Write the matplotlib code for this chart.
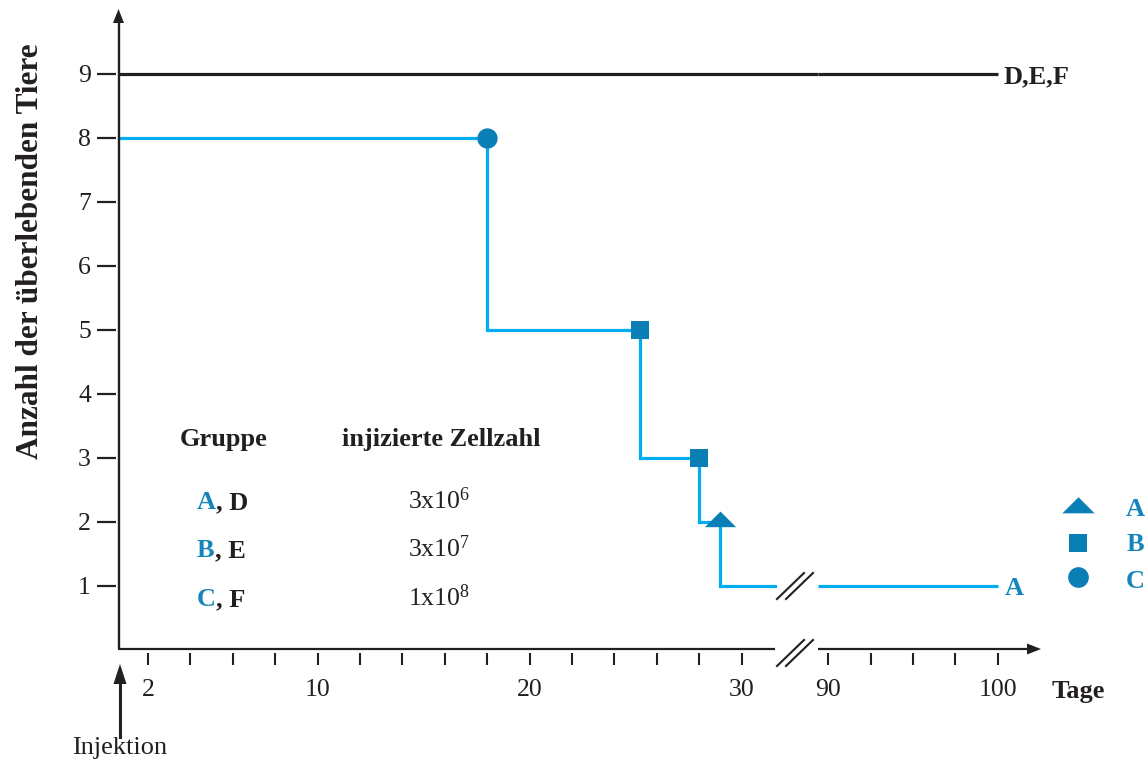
import matplotlib
matplotlib.use("Agg")
import matplotlib.pyplot as plt
from matplotlib.transforms import Affine2D
from matplotlib.lines import Line2D
from matplotlib.path import Path
from matplotlib.markers import MarkerStyle

plt.rcParams['font.family'] = ['Liberation Serif', 'DejaVu Serif']
plt.rcParams['mathtext.fontset'] = 'custom'
plt.rcParams['mathtext.rm'] = 'Liberation Serif'
plt.rcParams['mathtext.it'] = 'Liberation Serif:italic'
plt.rcParams['mathtext.bf'] = 'Liberation Serif:bold'

# ---------------- data ----------------
start_survivors = 8
event_days = [18, 25.2, 28, 29]        # days on which animals died (groups A-C)
survivors_after = [5, 3, 2, 1]         # survivors after each event
event_groups = ['C', 'B', 'B', 'A']    # group that lost animals at that event
end_day = 100
control_survivors = 9                  # groups D, E, F
control_label = 'D,E,F'
line_label = 'A'

left_ticks = [2, 4, 6, 8, 10, 12, 14, 16, 18, 20, 22, 24, 26, 28, 30]
left_labelled = [2, 10, 20, 30]
right_ticks = [90, 92.5, 95, 97.5, 100]
right_labelled = [90, 100]
y_ticks = [1, 2, 3, 4, 5, 6, 7, 8, 9]

treated_groups = ['A', 'B', 'C']
control_groups = ['D', 'E', 'F']
cell_mantissa = ['3', '3', '1']
cell_exponent = ['6', '7', '8']

# ---------------- styles ----------------
LINE_BLUE = '#00aeef'
MARK_BLUE = '#0a7fb5'
TEXT_BLUE = '#1486ba'
BLACK = '#231f20'
W, H = 1147, 762

marker_for = {
    'A': MarkerStyle(Path([(-1, -0.3), (1, -0.3), (0, 0.7), (-1, -0.3)],
                          [Path.MOVETO, Path.LINETO, Path.LINETO, Path.CLOSEPOLY])),
    'B': 's',
    'C': 'o',
}
size_for = {'A': 22.5, 'B': 12.3, 'C': 14.6}

fig = plt.figure(figsize=(W / 100, H / 100), dpi=100)
px = Affine2D().scale(1 / W, -1 / H).translate(0, 1) + fig.transFigure

ax_bottom_px, ax_top_px = 653, 10
bottom = (H - ax_bottom_px) / H
height = (ax_bottom_px - ax_top_px) / H
axL = fig.add_axes([116 / W, bottom, (775 - 116) / W, height])
axR = fig.add_axes([818 / W, bottom, (1041 - 818) / W, height])

ppd_L = 21.2   # pixels per day, left segment
ppd_R = 17.0   # pixels per day, right segment
axL.set_xlim(2 - (148 - 116) / ppd_L, 2 + (775 - 148) / ppd_L)
axR.set_xlim(90 - (828 - 818) / ppd_R, 90 + (1041 - 828) / ppd_R)
ylo = -(ax_bottom_px - 650) / 64.0
yhi = (650 - ax_top_px) / 64.0
for a in (axL, axR):
    a.set_ylim(ylo, yhi)
    for s in a.spines.values():
        s.set_visible(False)
    a.patch.set_visible(False)

injection_day = 2 - (148 - 119) / ppd_L
xL0, xL1 = injection_day, axL.get_xlim()[1]
xR0 = axR.get_xlim()[0]

# ----- ticks -----
axL.set_xticks(left_ticks)
axL.set_xticklabels([str(t) if t in left_labelled else '' for t in left_ticks])
axR.set_xticks(right_ticks)
axR.set_xticklabels([('%g' % t) if t in right_labelled else '' for t in right_ticks])
for a in (axL, axR):
    a.tick_params(axis='x', direction='out', length=8.5, width=1.5, color=BLACK,
                  labelsize=18.5, labelcolor=BLACK, pad=10)
axL.set_yticks(y_ticks)
axL.set_yticklabels([str(t) for t in y_ticks])
axL.tick_params(axis='y', direction='out', length=14, width=1.6, color=BLACK,
                labelsize=18.5, labelcolor=BLACK, pad=4)
axR.set_yticks([])

# ----- axis lines with arrows -----
def arrow_head(tip, direction, length=14, half_width=5.5):
    tx, ty = tip
    if direction == 'up':
        pts = [[tx, ty], [tx - half_width, ty + length], [tx + half_width, ty + length]]
    else:  # right
        pts = [[tx, ty], [tx - length, ty - half_width], [tx - length, ty + half_width]]
    fig.patches.append(plt.Polygon(pts, closed=True, transform=px, color=BLACK,
                                   figure=fig, lw=0))

fig.add_artist(Line2D([118.5, 118.5], [649, 20], transform=px, color=BLACK, lw=1.7,
                      solid_capstyle='butt'))
arrow_head((118.5, 9), 'up')
fig.add_artist(Line2D([118, 775], [649, 649], transform=px, color=BLACK, lw=1.6,
                      solid_capstyle='butt'))
fig.add_artist(Line2D([818, 1030], [649, 649], transform=px, color=BLACK, lw=1.6,
                      solid_capstyle='butt'))
arrow_head((1041, 649), 'right')

# ----- control line D,E,F (continuous across the break) -----
axL.plot([xL0, xL1 + (818 - 775) / ppd_L], [control_survivors] * 2, color=BLACK,
         lw=2.3, clip_on=False, solid_capstyle='butt')
axR.plot([xR0, end_day], [control_survivors] * 2, color=BLACK, lw=2.3,
         solid_capstyle='butt')
axR.text(end_day + 0.3, control_survivors, control_label, fontsize=19,
         fontweight='bold', color=BLACK, ha='left', va='center_baseline')

# ----- survival step line -----
xs = [xL0] + event_days + [xL1]
ys = [start_survivors] + survivors_after + [survivors_after[-1]]
axL.step(xs, ys, where='post', color=LINE_BLUE, lw=2.3, clip_on=False,
         solid_joinstyle='miter')
axR.plot([xR0, end_day], [survivors_after[-1]] * 2, color=LINE_BLUE, lw=2.3,
         solid_capstyle='butt')
axR.text(end_day + 0.4, survivors_after[-1], line_label, fontsize=19,
         fontweight='bold', color=TEXT_BLUE, ha='left', va='center_baseline')

before = [start_survivors] + survivors_after[:-1]
for d, yb, g in zip(event_days, before, event_groups):
    axL.plot([d], [yb], linestyle='none', marker=marker_for[g],
             markersize=size_for[g], color=MARK_BLUE, markeredgewidth=0,
             clip_on=False, zorder=5)

# ----- break marks -----
def break_mark(yc):
    for dx in (0, 9):
        fig.add_artist(Line2D([777 + dx, 804 + dx], [yc + 13, yc - 13],
                              transform=px, color=BLACK, lw=1.5))

break_mark(586)
break_mark(653)

# ----- labels -----
fig.text(31 / W, 1 - 251 / H, 'Anzahl der überlebenden Tiere', rotation=90,
         fontsize=22.5, fontweight='bold', color=BLACK, ha='center', va='center')
fig.text(1052, 698, 'Tage', transform=px, fontsize=19, fontweight='bold',
         color=BLACK, ha='left', va='baseline')
fig.text(120, 754, 'Injektion', transform=px, fontsize=19, color=BLACK,
         ha='center', va='baseline')
fig.add_artist(Line2D([120, 120], [737, 682], transform=px, color=BLACK, lw=2.2))
fig.patches.append(plt.Polygon([[113.5, 684], [126.5, 684], [120, 664]], closed=True,
                               transform=px, color=BLACK, figure=fig, lw=0))

# ----- table -----
fig.text(180, 446, 'Gruppe', transform=px, fontsize=19, fontweight='bold',
         color=BLACK, ha='left', va='baseline')
fig.text(342, 446, 'injizierte Zellzahl', transform=px, fontsize=19,
         fontweight='bold', color=BLACK, ha='left', va='baseline')
row_base = [509, 557, 606]
for tg, cg, m, e, yb in zip(treated_groups, control_groups, cell_mantissa,
                            cell_exponent, row_base):
    t = fig.text(197, yb, tg, transform=px, fontsize=19, fontweight='bold',
                 color=TEXT_BLUE, ha='left', va='baseline')
    fig.canvas.draw()
    bb = t.get_window_extent()
    fig.text(bb.x1 / W, (H - yb) / H, ', ' + cg, fontsize=19,
             fontweight='bold', color=BLACK, ha='left', va='baseline')
    fig.text(408, yb, m + r'x10$^{\mathrm{' + e + '}}$', transform=px,
             fontsize=18.5, color=BLACK, ha='left', va='baseline')

# ----- marker legend -----
leg_y = [508, 543, 577]
leg_base = [516, 551, 588]
for g, yc, yb in zip(treated_groups, leg_y, leg_base):
    fig.add_artist(Line2D([1078], [yc], transform=px, linestyle='none',
                          marker=marker_for[g],
                          markersize=size_for[g] * (1.03 if g == 'A' else 1.02),
                          color=MARK_BLUE, markeredgewidth=0))
    fig.text(1135, yb, g, transform=px, fontsize=19, fontweight='bold',
             color=TEXT_BLUE, ha='center', va='baseline')

fig.savefig('out.png', dpi=100)
